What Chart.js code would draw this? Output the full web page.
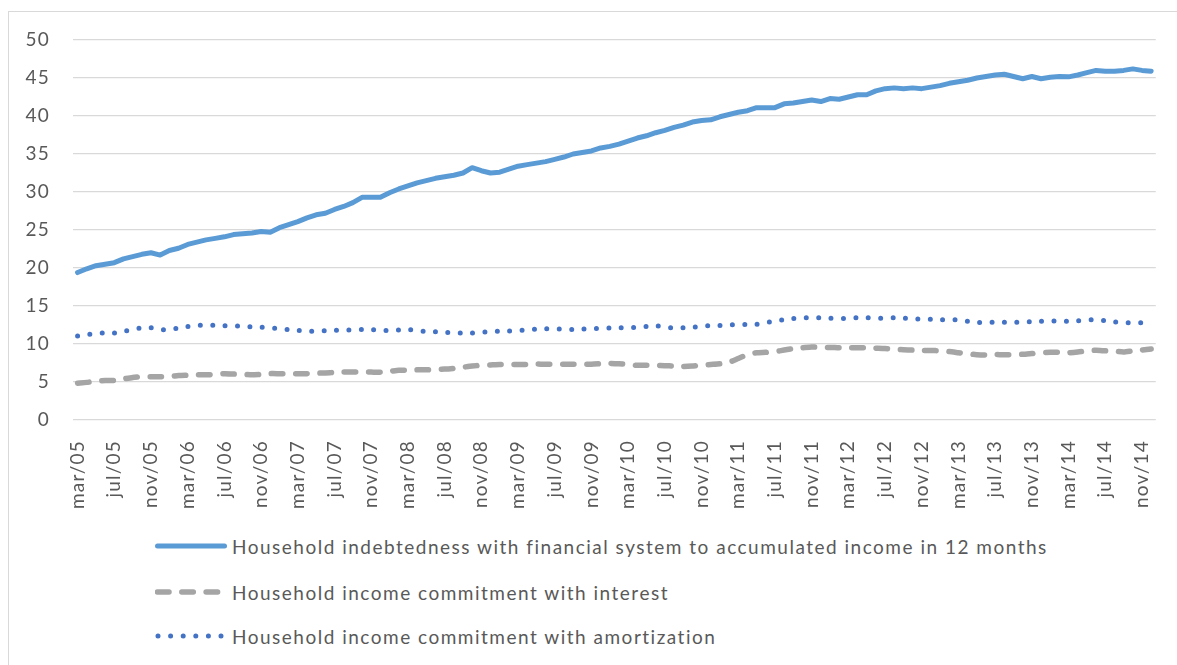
<!DOCTYPE html>
<html>
<head>
<meta charset="utf-8">
<script src="https://cdn.jsdelivr.net/npm/chart.js@4/dist/chart.umd.min.js"></script>
<style>
  html, body { margin: 0; padding: 0; background: #ffffff; width: 1177px; height: 665px; overflow: hidden; }
  #frame { position: absolute; left: 8px; top: 11px; width: 1200px; height: 700px; border: 1.5px solid #d9d9d9; box-sizing: border-box; }
  #wrap { position: absolute; left: 0; top: 0; width: 1177px; height: 525px; }
  .leg { position: absolute; left: 155px; height: 24px; display: flex; align-items: center; font-family: Lato, "Open Sans", sans-serif; font-size: 19px; letter-spacing: 1.5px; color: #595959; white-space: nowrap; }
  .leg svg { display: block; margin-right: 5px; }
</style>
</head>
<body>
<div id="frame"></div>
<div id="wrap"><canvas id="c"></canvas></div>
<div class="leg" style="top:534px;"><svg width="72" height="10"><line x1="2.5" y1="5" x2="69.5" y2="5" stroke="#5B9BD5" stroke-width="5" stroke-linecap="round"/></svg><span>Household indebtedness with financial system to accumulated income in 12 months</span></div>
<div class="leg" style="top:580px;"><svg width="72" height="10"><line x1="2.5" y1="5" x2="69.5" y2="5" stroke="#A5A5A5" stroke-width="5.5" stroke-linecap="round" stroke-dasharray="11.5 12.8"/></svg><span>Household income commitment with interest</span></div>
<div class="leg" style="top:624px;"><svg width="72" height="10"><line x1="3" y1="5" x2="69" y2="5" stroke="#4472C4" stroke-width="5" stroke-linecap="round" stroke-dasharray="0 12.6"/></svg><span>Household income commitment with amortization</span></div>
<script>
const labels = [
  "mar/05","apr/05","may/05","jun/05","jul/05","aug/05","sep/05","oct/05","nov/05","dec/05",
  "jan/06","feb/06","mar/06","apr/06","may/06","jun/06","jul/06","aug/06","sep/06","oct/06","nov/06","dec/06",
  "jan/07","feb/07","mar/07","apr/07","may/07","jun/07","jul/07","aug/07","sep/07","oct/07","nov/07","dec/07",
  "jan/08","feb/08","mar/08","apr/08","may/08","jun/08","jul/08","aug/08","sep/08","oct/08","nov/08","dec/08",
  "jan/09","feb/09","mar/09","apr/09","may/09","jun/09","jul/09","aug/09","sep/09","oct/09","nov/09","dec/09",
  "jan/10","feb/10","mar/10","apr/10","may/10","jun/10","jul/10","aug/10","sep/10","oct/10","nov/10","dec/10",
  "jan/11","feb/11","mar/11","apr/11","may/11","jun/11","jul/11","aug/11","sep/11","oct/11","nov/11","dec/11",
  "jan/12","feb/12","mar/12","apr/12","may/12","jun/12","jul/12","aug/12","sep/12","oct/12","nov/12","dec/12",
  "jan/13","feb/13","mar/13","apr/13","may/13","jun/13","jul/13","aug/13","sep/13","oct/13","nov/13","dec/13",
  "jan/14","feb/14","mar/14","apr/14","may/14","jun/14","jul/14","aug/14","sep/14","oct/14","nov/14","dec/14"
];

const indebtedness = [
  19.4,19.9,20.3,20.5,20.7,21.2,21.5,21.8,22.0,21.7,
  22.3,22.6,23.1,23.4,23.7,23.9,24.1,24.4,24.5,24.6,24.8,24.7,
  25.3,25.7,26.1,26.6,27.0,27.2,27.7,28.1,28.6,29.3,29.3,29.3,
  29.9,30.4,30.8,31.2,31.5,31.8,32.0,32.2,32.5,33.2,32.8,32.5,
  32.6,33.0,33.4,33.6,33.8,34.0,34.3,34.6,35.0,35.2,35.4,35.8,
  36.0,36.3,36.7,37.1,37.4,37.8,38.1,38.5,38.8,39.2,39.4,39.5,
  39.9,40.2,40.5,40.7,41.1,41.1,41.1,41.6,41.7,41.9,42.1,41.9,
  42.3,42.2,42.5,42.8,42.8,43.3,43.6,43.7,43.6,43.7,43.6,43.8,
  44.0,44.3,44.5,44.7,45.0,45.2,45.4,45.5,45.2,44.9,45.2,44.9,
  45.1,45.2,45.15,45.4,45.7,46.0,45.9,45.9,46.0,46.2,46.0,45.9
];

const interestCommitment = [
  4.85,4.95,5.1,5.2,5.2,5.4,5.6,5.7,5.7,5.7,
  5.7,5.85,5.9,5.95,5.95,6.0,6.1,6.05,6.0,5.95,6.0,6.1,
  6.1,6.1,6.1,6.1,6.15,6.2,6.25,6.3,6.3,6.3,6.3,6.3,
  6.4,6.55,6.55,6.6,6.6,6.65,6.7,6.8,6.95,7.1,7.2,7.25,
  7.3,7.3,7.3,7.3,7.35,7.35,7.35,7.35,7.35,7.35,7.35,7.4,
  7.45,7.4,7.3,7.2,7.2,7.2,7.15,7.1,7.05,7.1,7.2,7.3,
  7.4,7.6,8.1,8.6,8.85,8.9,9.0,9.2,9.4,9.5,9.6,9.55,
  9.55,9.5,9.5,9.5,9.5,9.45,9.4,9.3,9.25,9.2,9.15,9.15,
  9.1,9.0,8.85,8.7,8.6,8.55,8.6,8.6,8.6,8.65,8.75,8.85,
  8.9,8.9,8.85,8.95,9.1,9.17,9.1,9.05,8.95,9.1,9.2,9.35
];

const amortizationCommitment = [
  11.05,11.2,11.4,11.45,11.45,11.65,11.95,12.1,12.15,11.9,
  11.9,12.1,12.3,12.45,12.45,12.45,12.4,12.4,12.35,12.25,12.2,12.15,
  12.0,11.9,11.8,11.65,11.7,11.75,11.8,11.85,11.85,11.9,11.9,11.75,
  11.8,11.85,11.9,11.75,11.65,11.6,11.5,11.5,11.45,11.45,11.55,11.6,
  11.7,11.7,11.8,11.85,11.95,12.0,12.0,11.95,11.9,11.95,12.0,12.05,
  12.1,12.15,12.1,12.2,12.3,12.4,12.25,12.1,12.15,12.2,12.35,12.4,
  12.45,12.5,12.6,12.55,12.6,12.8,13.0,13.2,13.35,13.45,13.45,13.45,
  13.4,13.35,13.4,13.45,13.45,13.4,13.4,13.45,13.4,13.3,13.3,13.25,
  13.2,13.2,13.15,13.0,12.85,12.85,12.85,12.85,12.85,12.9,12.95,13.0,
  13.05,13.0,13.0,13.05,13.15,13.2,13.05,12.9,12.8,12.8,12.8,12.8
];

const seriesNames = [
  "Household indebtedness with financial system to accumulated income in 12 months",
  "Household income commitment with interest",
  "Household income commitment with amortization"
];

const FONT = { family: "Lato, 'Open Sans', sans-serif", size: 19 };
const TEXT = "#595959";

const spacingPlugin = {
  id: "letterSpacing",
  beforeLayout(chart) { chart.ctx.letterSpacing = "1.2px"; },
  beforeDraw(chart) { chart.ctx.letterSpacing = "1.2px"; }
};

new Chart(document.getElementById("c"), {
  type: "line",
  plugins: [spacingPlugin],
  data: {
    labels: labels,
    datasets: [
      { label: seriesNames[0], data: indebtedness, borderColor: "#5B9BD5", borderWidth: 5,
        borderCapStyle: "round", borderJoinStyle: "round", pointRadius: 0, tension: 0, fill: false },
      { label: seriesNames[1], data: interestCommitment, borderColor: "#A5A5A5", borderWidth: 5.5,
        borderDash: [11.5, 12.8], borderCapStyle: "round", borderJoinStyle: "round", pointRadius: 0, tension: 0.2, fill: false },
      { label: seriesNames[2], data: amortizationCommitment, borderColor: "#4472C4", borderWidth: 5,
        borderDash: [0, 12.4], borderCapStyle: "round", borderJoinStyle: "round", pointRadius: 0, tension: 0.2, fill: false }
    ]
  },
  options: {
    responsive: true,
    maintainAspectRatio: false,
    animation: false,
    layout: { padding: { left: 0, right: 17, top: 40, bottom: 0 } },
    plugins: { legend: { display: false }, tooltip: { enabled: false } },
    scales: {
      x: {
        offset: true,
        grid: { display: false },
        border: { display: false },
        afterFit: function (s) { s.height = 105; },
        ticks: {
          autoSkip: false, maxRotation: 90, minRotation: 90, padding: 12,
          color: TEXT, font: FONT,
          callback: function (v, i) { return i % 4 === 0 ? labels[i] : null; }
        }
      },
      y: {
        min: 0, max: 50,
        grid: { color: "#d9d9d9", lineWidth: 1.3, drawTicks: false },
        border: { display: false },
        afterFit: function (s) { s.width = 73; },
        ticks: { stepSize: 5, padding: 23, color: TEXT, font: FONT }
      }
    }
  }
});
</script>
</body>
</html>
